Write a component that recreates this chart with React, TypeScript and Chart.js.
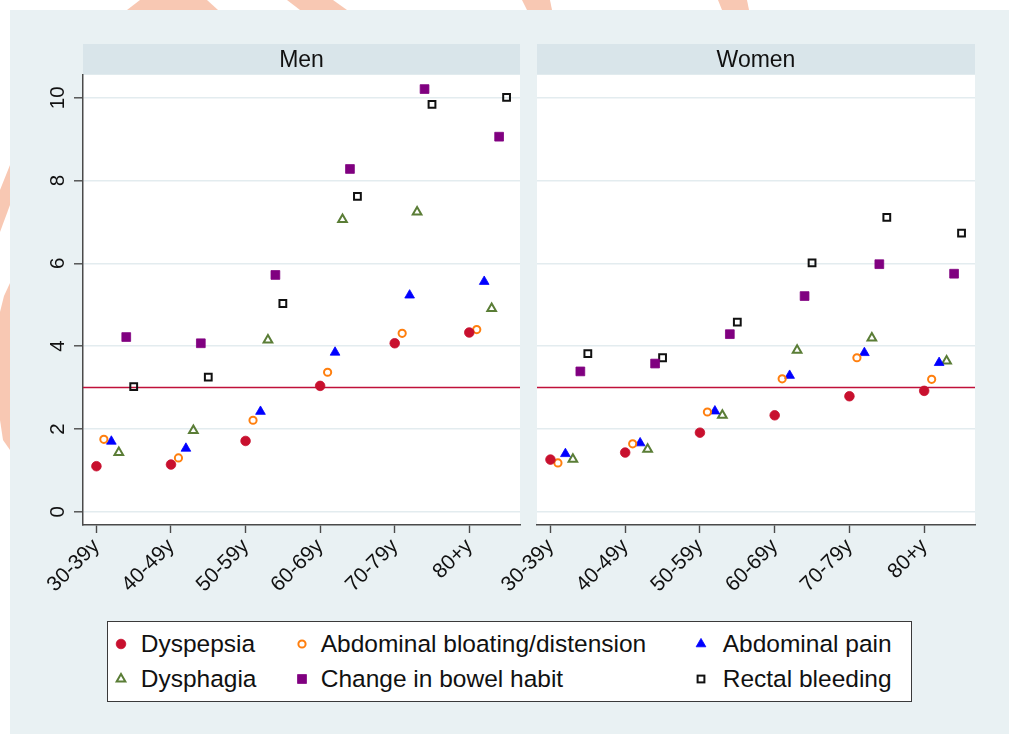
import React, { useEffect, useRef } from "react";
import { Chart, registerables } from "chart.js";

Chart.register(...registerables);

// ---------- data ----------
const AGE_GROUPS = ["30-39y", "40-49y", "50-59y", "60-69y", "70-79y", "80+y"];
const SERIES_LABELS = [
  "Dyspepsia",
  "Abdominal bloating/distension",
  "Abdominal pain",
  "Dysphagia",
  "Change in bowel habit",
  "Rectal bleeding",
];

const MEN_DYSPEPSIA = [1.1, 1.14, 1.71, 3.04, 4.07, 4.33];
const MEN_BLOATING = [1.75, 1.3, 2.21, 3.37, 4.31, 4.4];
const MEN_PAIN = [1.7, 1.53, 2.42, 3.85, 5.23, 5.56];
const MEN_DYSPHAGIA = [1.43, 1.96, 4.15, 7.06, 7.24, 4.91];
const MEN_BOWEL = [4.22, 4.07, 5.72, 8.28, 10.21, 9.06];
const MEN_BLEEDING = [3.02, 3.25, 5.03, 7.62, 9.84, 10.01];

const WOMEN_DYSPEPSIA = [1.26, 1.43, 1.91, 2.33, 2.79, 2.92];
const WOMEN_BLOATING = [1.18, 1.64, 2.41, 3.21, 3.72, 3.2];
const WOMEN_PAIN = [1.4, 1.66, 2.43, 3.29, 3.84, 3.6];
const WOMEN_DYSPHAGIA = [1.27, 1.51, 2.33, 3.9, 4.2, 3.64];
const WOMEN_BOWEL = [3.39, 3.58, 4.29, 5.21, 5.98, 5.75];
const WOMEN_BLEEDING = [3.82, 3.72, 4.58, 6.01, 7.11, 6.73];

const Y_TICKS = [0, 2, 4, 6, 8, 10];
const THRESHOLD = 3;

// ---------- styling ----------
const FONT = '"Liberation Sans", Arial, Helvetica, sans-serif';
const X_MIN = -0.18;
const X_MAX = 5.68;
const Y_MIN = -0.32;
const Y_MAX = 10.55;
const DODGE = 0.1;

type MarkerStyle = {
  color: string;
  pointStyle: "circle" | "triangle" | "rect";
  radius: number;
  hollow: boolean;
};

const STYLES: MarkerStyle[] = [
  { color: "#C8102E", pointStyle: "circle", radius: 4.8, hollow: false },
  { color: "#FF7F0E", pointStyle: "circle", radius: 3.6, hollow: true },
  { color: "#0000FF", pointStyle: "triangle", radius: 5.6, hollow: false },
  { color: "#5A7D36", pointStyle: "triangle", radius: 5.0, hollow: true },
  { color: "#800080", pointStyle: "rect", radius: 6.2, hollow: false },
  { color: "#111111", pointStyle: "rect", radius: 4.8, hollow: true },
];

const AXIS_COLOR = "#4a4a4a";
const GRID_COLOR = "#E3ECEF";
const STRIP_COLOR = "#D9E5EA";
const OUTER_BG = "#E9F1F3";
const LINE_COLOR = "#C0103A";

function stripPlugin(title: string) {
  return {
    id: "strip",
    beforeDraw(chart: any) {
      const { ctx, chartArea: a } = chart;
      ctx.save();
      ctx.fillStyle = "#ffffff";
      ctx.fillRect(a.left, a.top, a.right - a.left, a.bottom - a.top);
      ctx.fillStyle = STRIP_COLOR;
      ctx.fillRect(a.left, 0, a.right - a.left, a.top - 0.5);
      ctx.fillStyle = "#111111";
      ctx.font = `23px ${FONT}`;
      ctx.textAlign = "center";
      ctx.textBaseline = "alphabetic";
      ctx.fillText(title, (a.left + a.right) / 2, a.top - 8.3);
      ctx.restore();
    },
  };
}

type PanelProps = {
  title: string;
  series: number[][];
  showY: boolean;
  left: number;
  top: number;
  width: number;
  height: number;
  yWidth: number;
  padRight: number;
};

function Panel(p: PanelProps) {
  const ref = useRef<HTMLCanvasElement | null>(null);

  useEffect(() => {
    if (!ref.current) return;
    const datasets: any[] = p.series.map((vals, si) => {
      const st = STYLES[si];
      return {
        type: "scatter",
        label: SERIES_LABELS[si],
        data: vals.map((v, ci) => ({ x: ci + si * DODGE, y: v })),
        pointStyle: st.pointStyle,
        pointRadius: st.radius,
        pointBackgroundColor: st.hollow ? "rgba(0,0,0,0)" : st.color,
        pointBorderColor: st.color,
        pointBorderWidth: st.hollow ? 2 : 0.8,
        showLine: false,
      };
    });
    datasets.push({
      type: "line",
      label: "threshold",
      data: [
        { x: X_MIN, y: THRESHOLD },
        { x: X_MAX, y: THRESHOLD },
      ],
      borderColor: LINE_COLOR,
      borderWidth: 1.6,
      pointRadius: 0,
      fill: false,
      showLine: true,
    });

    const chart = new Chart(ref.current, {
      type: "scatter",
      data: { datasets },
      options: {
        animation: false,
        responsive: true,
        maintainAspectRatio: false,
        events: [],
        layout: { padding: { left: 0, right: p.padRight, top: 31, bottom: 0 } },
        plugins: {
          legend: { display: false },
          tooltip: { enabled: false },
          title: { display: false },
        },
        scales: {
          x: {
            type: "linear",
            min: X_MIN,
            max: X_MAX,
            afterBuildTicks: (s: any) => {
              s.ticks = AGE_GROUPS.map((_, i) => ({ value: i }));
            },
            afterFit: (s: any) => {
              s.height = p.height - 481;
              s.paddingLeft = 0;
              s.paddingRight = 0;
            },
            ticks: {
              autoSkip: false,
              minRotation: 45,
              maxRotation: 45,
              padding: 1,
              color: "#111111",
              font: { family: FONT, size: 21 },
              callback: (v: any) => AGE_GROUPS[Number(v)] ?? "",
            },
            grid: {
              drawOnChartArea: false,
              drawTicks: true,
              tickLength: 8,
              tickColor: AXIS_COLOR,
              tickWidth: 1.4,
            },
            border: { display: true, color: AXIS_COLOR, width: 1.5 },
          },
          y: {
            type: "linear",
            min: Y_MIN,
            max: Y_MAX,
            afterBuildTicks: (s: any) => {
              s.ticks = Y_TICKS.map((v) => ({ value: v }));
            },
            afterFit: (s: any) => {
              s.width = p.yWidth;
              s.paddingTop = 0;
              s.paddingBottom = 0;
            },
            ticks: {
              display: p.showY,
              minRotation: 90,
              maxRotation: 90,
              crossAlign: "center",
              padding: 4,
              color: "#111111",
              font: { family: FONT, size: 20.5 },
              callback: (v: any) => String(v),
            },
            grid: {
              color: GRID_COLOR,
              lineWidth: 1.6,
              drawTicks: p.showY,
              tickLength: 9,
              tickColor: AXIS_COLOR,
              tickWidth: 1.4,
            },
            border: { display: p.showY, color: AXIS_COLOR, width: 1.5 },
          },
        },
      } as any,
      plugins: [stripPlugin(p.title)],
    });
    return () => chart.destroy();
  }, []);

  return (
    <div
      style={{
        position: "absolute",
        left: p.left,
        top: p.top,
        width: p.width,
        height: p.height,
      }}
    >
      <canvas ref={ref} />
    </div>
  );
}

function LegendMarker({ st, cx, cy }: { st: MarkerStyle; cx: number; cy: number }) {
  const s = 16;
  const c = s / 2;
  let shape: React.ReactNode = null;
  const fill = st.hollow ? "none" : st.color;
  const sw = st.hollow ? 2 : 0.8;
  if (st.pointStyle === "circle") {
    shape = <circle cx={c} cy={c} r={st.radius} fill={fill} stroke={st.color} strokeWidth={sw} />;
  } else if (st.pointStyle === "rect") {
    const h = st.radius * Math.SQRT1_2;
    shape = <rect x={c - h} y={c - h} width={2 * h} height={2 * h} fill={fill} stroke={st.color} strokeWidth={sw} />;
  } else {
    const r = st.radius;
    const pts = [0, 1, 2]
      .map((k) => {
        const a = (k * 2 * Math.PI) / 3;
        return `${c + Math.sin(a) * r},${c - Math.cos(a) * r}`;
      })
      .join(" ");
    shape = <polygon points={pts} fill={fill} stroke={st.color} strokeWidth={sw} />;
  }
  return (
    <svg
      width={s}
      height={s}
      style={{ position: "absolute", left: cx - c, top: cy - c, overflow: "visible" }}
    >
      {shape}
    </svg>
  );
}

const LEGEND_COLS = [
  { marker: 120.7, text: 140.7 },
  { marker: 301.7, text: 320.7 },
  { marker: 700.7, text: 722.7 },
];
const LEGEND_ROWS = [
  { marker: 643.5, baseline: 652.7 },
  { marker: 678.5, baseline: 688 },
];

function Legend() {
  const items: React.ReactNode[] = [];
  SERIES_LABELS.forEach((label, i) => {
    const col = LEGEND_COLS[i % 3];
    const row = LEGEND_ROWS[Math.floor(i / 3)];
    items.push(<LegendMarker key={"m" + i} st={STYLES[i]} cx={col.marker} cy={row.marker} />);
    items.push(
      <div
        key={"t" + i}
        style={{
          position: "absolute",
          left: col.text,
          top: row.baseline - 20.7,
          fontFamily: FONT,
          fontSize: 24.5,
          lineHeight: "24.5px",
          color: "#111111",
          whiteSpace: "nowrap",
        }}
      >
        {label}
      </div>
    );
  });
  return (
    <>
      <div
        style={{
          position: "absolute",
          left: 107,
          top: 620.5,
          width: 805,
          height: 81,
          boxSizing: "border-box",
          border: "1.5px solid #3a3a3a",
          background: "#ffffff",
        }}
      />
      {items}
    </>
  );
}

function Watermark() {
  const c = "#F8C8B3";
  return (
    <svg width={1014} height={734} style={{ position: "absolute", left: 0, top: 0 }}>
      <polygon points="127,10 218,10 207,0 140,0" fill={c} />
      <polygon points="287,0 333,0 347,10 300,10" fill={c} />
      <polygon points="522,0 550,0 552,10 527,10" fill={c} />
      <polygon points="718,0 747,0 749,10 722,10" fill={c} />
      <polygon points="0,190 10,165 10,205 0,232" fill={c} />
      <polygon points="10,283 10,450 3,440 0,420 0,312 4,296" fill={c} />
    </svg>
  );
}

export default function App() {
  return (
    <div
      style={{
        position: "absolute",
        left: 0,
        top: 0,
        width: 1014,
        height: 734,
        background: "#ffffff",
        overflow: "hidden",
      }}
    >
      <Watermark />
      <div
        style={{
          position: "absolute",
          left: 10,
          top: 10,
          width: 999,
          height: 724,
          background: OUTER_BG,
        }}
      />
      <Panel
        title="Men"
        series={[MEN_DYSPEPSIA, MEN_BLOATING, MEN_PAIN, MEN_DYSPHAGIA, MEN_BOWEL, MEN_BLEEDING]}
        showY={true}
        left={10}
        top={44}
        width={518}
        height={566}
        yWidth={73}
        padRight={8}
      />
      <Panel
        title="Women"
        series={[
          WOMEN_DYSPEPSIA,
          WOMEN_BLOATING,
          WOMEN_PAIN,
          WOMEN_DYSPHAGIA,
          WOMEN_BOWEL,
          WOMEN_BLEEDING,
        ]}
        showY={false}
        left={470}
        top={44}
        width={538}
        height={566}
        yWidth={67}
        padRight={33}
      />
      <Legend />
    </div>
  );
}
